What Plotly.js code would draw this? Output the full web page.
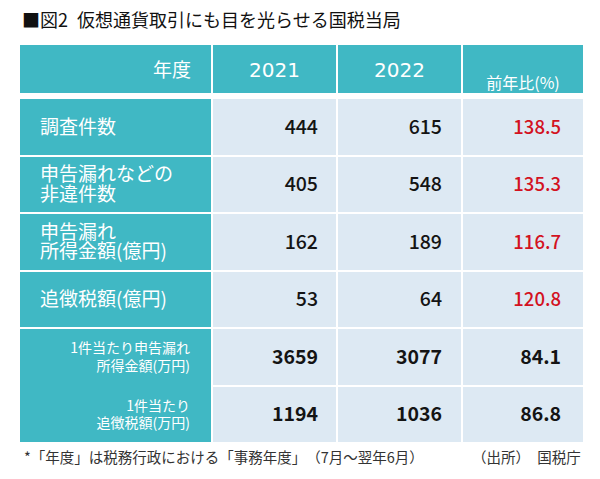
<!DOCTYPE html>
<html>
<head>
<meta charset="utf-8">
<script src="https://cdn.plot.ly/plotly-3.0.1.min.js"></script>
<style>
html,body{margin:0;padding:0;background:#ffffff;}
#chart{width:600px;height:479px;}
</style>
</head>
<body>
<div id="chart"></div>
<script>
// ---------- data ----------
const titleText = '■図2\u2002仮想通貨取引にも目を光らせる国税当局';
const cornerHeader = '年度';
const years = ['2021', '2022'];
const changeHeader = '前年比(%)';
const rowLabels = [
  '調査件数',
  '申告漏れなどの<br>非違件数',
  '申告漏れ<br>所得金額(億円)',
  '追徴税額(億円)',
  '1件当たり申告漏れ<br>所得金額(万円)',
  '1件当たり<br>追徴税額(万円)'
];
const values2021 = [444, 405, 162, 53, 3659, 1194];
const values2022 = [615, 548, 189, 64, 3077, 1036];
const yoyChange = [138.5, 135.3, 116.7, 120.8, 84.1, 86.8];
const footnote = '*「年度」は税務行政における「事務年度」　（7月～翌年6月）';
const sourceNote = '（出所）　国税庁';

// ---------- layout constants (px) ----------
const W = 600, H = 479;
const colEdges = [19, 212, 337, 462, 584];
const headerEdges = [44, 94];
const bodyTop = 98, bodyBottom = 443;
const nRows = rowLabels.length;
const rowEdges = Array.from({length: nRows + 1}, (_, i) => bodyTop + (bodyBottom - bodyTop) * i / nRows);
const perCaseFrom = 4;            // rows from here share one label cell and are bold
const numPad = [19, 20, 23];      // right padding of the number columns
const TEAL = '#40b8c4', LIGHT = '#dde9f3', RED = '#d3121f', INK = '#141414', WHITE = '#ffffff';
const JP = '"Noto Sans CJK JP", "Noto Sans", sans-serif';

const nudge = f => 0.115 * f;     // visual centring of scatter text
const rowCenter = i => (rowEdges[i] + rowEdges[i + 1]) / 2;
const colCenter = c => (colEdges[c] + colEdges[c + 1]) / 2;
const headerCenter = (headerEdges[0] + headerEdges[1]) / 2;

// ---------- cell layers ----------
const cellScale = [[0, TEAL], [1, LIGHT]];
function cells(x, y, z) {
  return {type: 'heatmap', x: x, y: y, z: z, zmin: 0, zmax: 1, colorscale: cellScale,
          showscale: false, xgap: 2, ygap: 2, hoverinfo: 'skip'};
}
const headerCells = cells(colEdges, headerEdges, [colEdges.slice(1).map(() => 0)]);
const labelEdges = rowEdges.slice(0, perCaseFrom + 1).concat([rowEdges[nRows]]);
const labelCells = cells([colEdges[0], colEdges[1]], labelEdges,
                         labelEdges.slice(1).map(() => [0]));
const valueCells = cells(colEdges.slice(1), rowEdges, rowLabels.map(() => [1, 1, 1]));

// ---------- text layers ----------
function textTrace(x, y, text, pos, size, color, family, weight) {
  return {type: 'scatter', mode: 'text', x: x, y: y.map(v => v + nudge(size)), text: text,
          textposition: pos, hoverinfo: 'skip',
          textfont: {family: family || JP, size: size, color: color, weight: weight || 'normal'}};
}

const traces = [headerCells, labelCells, valueCells];

// header texts
traces.push(textTrace([colEdges[1] - 21], [headerCenter + 1], [cornerHeader], 'middle left', 19, WHITE));
traces.push(textTrace([colCenter(1), colCenter(2)], [headerCenter + 1, headerCenter + 1], years,
                      'middle center', 20, WHITE, '"DejaVu Sans", sans-serif'));
traces.push(textTrace([colCenter(3)], [headerCenter + 14], [changeHeader], 'middle center', 16, WHITE));

// row labels (split into lines so the line pitch can be tight)
const bigX = [], bigY = [], bigT = [], smallX = [], smallY = [], smallT = [];
rowLabels.forEach((lab, i) => {
  const lines = lab.split('<br>');
  const small = i >= perCaseFrom;
  const pitch = small ? 17.5 : 19.5;
  lines.forEach((ln, j) => {
    const y = rowCenter(i) + (j - (lines.length - 1) / 2) * pitch;
    if (small) { smallX.push(colEdges[1] - 22); smallY.push(y); smallT.push(ln); }
    else { bigX.push(colEdges[0] + 21); bigY.push(y); bigT.push(ln); }
  });
});
traces.push(textTrace(bigX, bigY, bigT, 'middle right', 19, WHITE));
traces.push(textTrace(smallX, smallY, smallT, 'middle left', 14, WHITE));

// numbers
const columns = [
  values2021.map(String),
  values2022.map(String),
  yoyChange.map(v => v.toFixed(1))
];
[false, true].forEach(bold => {
  columns.forEach((col, c) => {
    const idx = rowLabels.map((_, i) => i).filter(i => (i >= perCaseFrom) === bold);
    const colors = idx.map(i => (c === 2 && yoyChange[i] >= 100) ? RED : INK);
    const size = (c === 2 && !bold) ? 18.5 : 19.5;
    traces.push(textTrace(idx.map(() => colEdges[c + 2] - numPad[c]), idx.map(rowCenter),
                          idx.map(i => col[i]), 'middle left', size, colors, JP, bold ? 'bold' : 500));
  });
});

const layout = {
  width: W, height: H,
  margin: {l: 0, r: 0, t: 0, b: 0, pad: 0},
  paper_bgcolor: WHITE, plot_bgcolor: WHITE,
  showlegend: false,
  title: {text: titleText, x: 22 / W, xanchor: 'left', xref: 'container',
          y: 1 - 21 / H, yanchor: 'middle', yref: 'container',
          font: {family: JP, size: 18, color: '#111111'}},
  xaxis: {range: [0, W], visible: false, fixedrange: true},
  yaxis: {range: [H, 0], visible: false, fixedrange: true},
  annotations: [
    {text: footnote, xref: 'paper', yref: 'paper', x: 22 / W, y: 1 - 456 / H,
     xanchor: 'left', yanchor: 'middle', showarrow: false,
     font: {family: JP, size: 14.5, color: '#333333'}},
    {text: sourceNote, xref: 'paper', yref: 'paper', x: 583 / W, y: 1 - 456 / H,
     xanchor: 'right', yanchor: 'middle', showarrow: false,
     font: {family: JP, size: 14.5, color: '#333333'}}
  ]
};

Plotly.newPlot('chart', traces, layout, {staticPlot: true, displayModeBar: false});
</script>
</body>
</html>
